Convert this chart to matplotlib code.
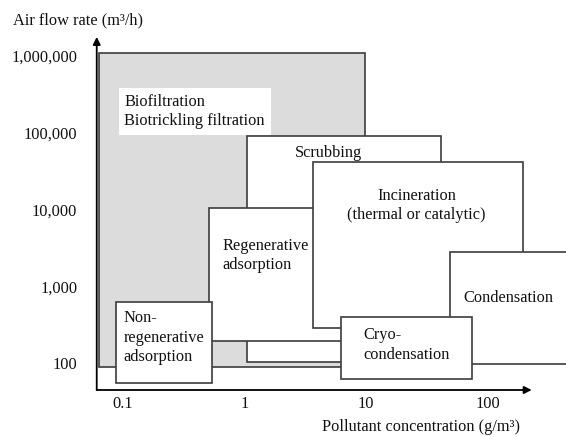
import matplotlib
matplotlib.use("Agg")
import matplotlib.pyplot as plt
from matplotlib.patches import Rectangle

plt.rcParams['font.family'] = ['Liberation Serif', 'DejaVu Serif']

# ---- data ----
names = ["Biofiltration\nBiotrickling filtration", "Scrubbing",
         "Regenerative\nadsorption", "Incineration\n(thermal or catalytic)",
         "Condensation", "Cryo-\ncondensation", "Non-\nregenerative\nadsorption"]
x_min = [0.065, 1.05, 0.51, 3.65, 49, 6.25, 0.089]
x_max = [9.8, 41, 10, 194, 1000, 73, 0.54]
y_min = [90, 103, 195, 290, 98, 62.5, 55]
y_max = [1.08e6, 90400, 10300, 41500, 2770, 396, 620]

x_ticks = [0.1, 1, 10, 100]
x_tick_labels = ["0.1", "1", "10", "100"]
y_ticks = [100, 1000, 10000, 100000, 1000000]
y_tick_labels = ["100", "1,000", "10,000", "100,000", "1,000,000"]

x_label = "Pollutant concentration (g/m³)"
y_label = "Air flow rate (m³/h)"

# ---- figure ----
W, H = 566, 437
FS = 11.8
fig = plt.figure(figsize=(W / 100, H / 100), dpi=100)
ax = fig.add_axes([0, 0, 1, 1])
ax.set_xscale('log')
ax.set_yscale('log')
ax.set_xlim(0.00994, 433.6)
ax.set_ylim(11.04, 5.22e6)
ax.patch.set_alpha(0)

x0, y0 = 0.0617, 45.0       # axis origin
x_tip, y_tip = 227, 1.73e6  # arrow tips

for s in ['top', 'right']:
    ax.spines[s].set_visible(False)
ax.spines['left'].set_position(('data', x0))
ax.spines['bottom'].set_position(('data', y0))
ax.spines['left'].set_color('none')
ax.spines['bottom'].set_color('none')

ax.set_xticks(x_ticks)
ax.set_xticklabels(x_tick_labels)
ax.set_yticks(y_ticks)
ax.set_yticklabels(y_tick_labels)
ax.minorticks_off()
ax.tick_params(axis='both', length=0, labelsize=FS, colors='#111111')
ax.tick_params(axis='y', pad=14)
ax.tick_params(axis='x', pad=4)

arrow_kw = dict(arrowstyle='-|>', color='black', lw=1.3, mutation_scale=11,
                shrinkA=0, shrinkB=0)
ax.annotate('', xy=(x_tip, y0), xytext=(x0, y0), arrowprops=arrow_kw, zorder=30)
ax.annotate('', xy=(x0, y_tip), xytext=(x0, y0), arrowprops=arrow_kw, zorder=30)

edge = '#3c3c3c'
faces = ['#dcdcdc'] + ['white'] * 6
for i in range(len(names)):
    r = Rectangle((x_min[i], y_min[i]), x_max[i] - x_min[i], y_max[i] - y_min[i],
                  facecolor=faces[i], edgecolor=edge, lw=1.2, zorder=2 + 2 * i)
    ax.add_patch(r)

# text label positions (figure pixels) and alignment
lab_pos = [(124.3, 111.5, 'left'), (328.3, 153.3, 'center'), (222.3, 255.5, 'left'),
           (416.5, 205.5, 'center'), (463.3, 298.5, 'left'), (363.3, 345.0, 'left'),
           (123.3, 337.5, 'left')]
for i, (px, py, ha) in enumerate(lab_pos):
    kw = {}
    if i == 0:
        kw['bbox'] = dict(facecolor='white', edgecolor='none',
                          boxstyle='square,pad=0.35')
    fig.text(px / W, 1 - py / H, names[i], ha=ha, va='center', multialignment=ha,
             fontsize=FS, linespacing=1.28, color='#111111', zorder=3 + 2 * i, **kw)

fig.text(13 / W, 1 - 20 / H, y_label, ha='left', va='center', fontsize=FS, color='#111111')
fig.text(321.7 / W, 1 - 427 / H, x_label, ha='left', va='center', fontsize=FS, color='#111111')

fig.savefig('out.png', dpi=100)
